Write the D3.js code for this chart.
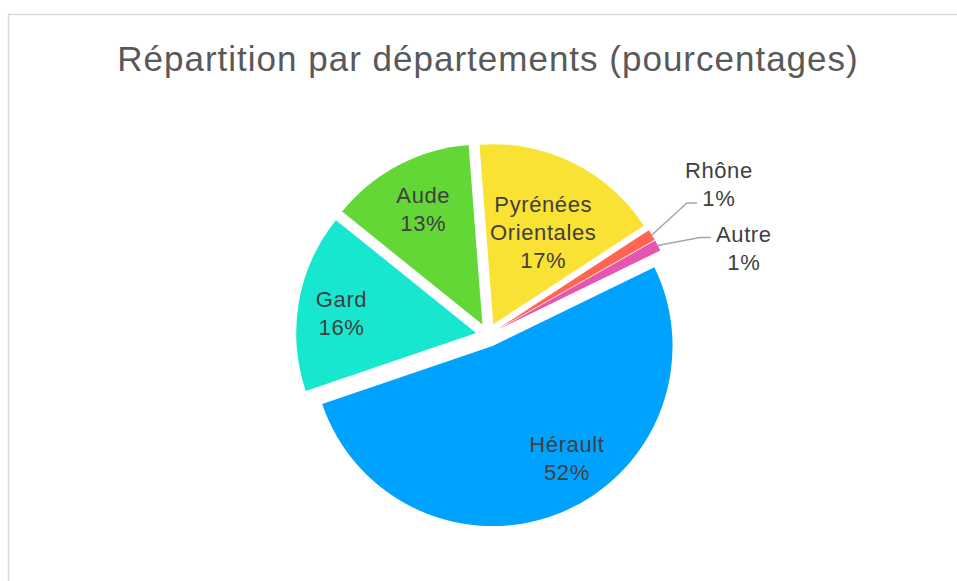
<!DOCTYPE html>
<html>
<head>
<meta charset="utf-8">
<script src="https://cdn.jsdelivr.net/npm/d3@7"></script>
<style>
  body { margin: 0; background: #fff; }
  svg { display: block; font-family: "Liberation Sans", Arial, sans-serif; }
</style>
</head>
<body>
<div id="chart"></div>
<script>
const departements = ["Hérault", "Gard", "Aude", "Pyrénées Orientales", "Rhône", "Autre"];
const pourcentages = [52, 16, 13, 17, 1, 1];
const couleurs = ["#00a2ff", "#17e7cf", "#62d736", "#f9e233", "#ff6550", "#e656b0"];
// label lines (multi-line labels in Excel)
const labelLines = [["Hérault"], ["Gard"], ["Aude"], ["Pyrénées", "Orientales"], ["Rhône"], ["Autre"]];

const width = 957, height = 581;
const cx = 488, cy = 335, radius = 180, explode = 12;
const startDeg = 64;

const svg = d3.select("#chart").append("svg")
    .attr("width", width)
    .attr("height", height);

// chart frame
svg.append("path")
    .attr("d", `M8.5,${height + 2}V14.5H${width + 2}`)
    .attr("fill", "none")
    .attr("stroke", "#d9d9d9")
    .attr("stroke-width", 1.5);

svg.append("text")
    .attr("x", 488)
    .attr("y", 71)
    .attr("text-anchor", "middle")
    .attr("font-size", 35)
    .attr("letter-spacing", 1)
    .attr("fill", "#595959")
    .text("Répartition par départements (pourcentages)");

const data = departements.map((d, i) => ({ name: d, value: pourcentages[i], lines: labelLines[i], color: couleurs[i] }));

const start = startDeg * Math.PI / 180;
const pie = d3.pie()
    .value(d => d.value)
    .sort(null)
    .startAngle(start)
    .endAngle(start + 2 * Math.PI);

const arc = d3.arc().innerRadius(0).outerRadius(radius);
const arcs = pie(data);

function dir(a) { return [Math.sin(a), -Math.cos(a)]; }

const g = svg.append("g").attr("transform", `translate(${cx},${cy})`);

const slice = g.selectAll(".slice")
    .data(arcs)
  .enter().append("g")
    .attr("class", "slice")
    .attr("transform", d => {
        const m = (d.startAngle + d.endAngle) / 2, v = dir(m);
        return "translate(" + v[0] * explode + "," + v[1] * explode + ")";
    });

slice.append("path")
    .attr("d", arc)
    .attr("fill", d => d.data.color);

// inside labels (angle tweak for Hérault, like Excel best fit)
const insideAdj = { "Hérault": { da: -11, r: 135 }, "Gard": { da: -2, r: 136 }, "Aude": { da: 0.5, r: 129 }, "Pyrénées Orientales": { da: 2.5, r: 104 } };
const lineH = 28;
const labelSize = 22, labelSpacing = 0.6;

slice.filter(d => insideAdj[d.data.name]).each(function(d) {
    const adj = insideAdj[d.data.name];
    const m = (d.startAngle + d.endAngle) / 2 + adj.da * Math.PI / 180;
    const v = dir(m);
    const lines = d.data.lines.concat([d.data.value + "%"]);
    const x = v[0] * adj.r, y = v[1] * adj.r;
    const t = d3.select(this).append("text")
        .attr("text-anchor", "middle")
        .attr("font-size", labelSize)
        .attr("letter-spacing", labelSpacing)
        .attr("fill", "#404040");
    lines.forEach((l, i) => {
        t.append("tspan")
            .attr("x", x)
            .attr("y", y + (i - (lines.length - 1) / 2) * lineH + 7)
            .text(l);
    });
});

// outside labels with leader lines
const outsideAdj = { "Rhône": { elbow: [35, -32], run: 10, tx: 22, ty: -25 }, "Autre": { elbow: [42, -8], run: 11, tx: 33, ty: 5 } };

slice.filter(d => outsideAdj[d.data.name]).each(function(d) {
    const adj = outsideAdj[d.data.name];
    const m = (d.startAngle + d.endAngle) / 2, v = dir(m);
    const p0 = [v[0] * radius, v[1] * radius];
    const p1 = [p0[0] + adj.elbow[0], p0[1] + adj.elbow[1]];
    const p2 = [p1[0] + adj.run, p1[1]];
    d3.select(this).append("path")
        .attr("d", d3.line()([p0, p1, p2]))
        .attr("fill", "none")
        .attr("stroke", "#a6a6a6")
        .attr("stroke-width", 1.5);
    const lines = d.data.lines.concat([d.data.value + "%"]);
    const t = d3.select(this).append("text")
        .attr("text-anchor", "middle")
        .attr("font-size", labelSize)
        .attr("letter-spacing", labelSpacing)
        .attr("fill", "#404040");
    lines.forEach((l, i) => {
        t.append("tspan")
            .attr("x", p2[0] + adj.tx)
            .attr("y", p2[1] + adj.ty + i * lineH)
            .text(l);
    });
});
</script>
</body>
</html>
